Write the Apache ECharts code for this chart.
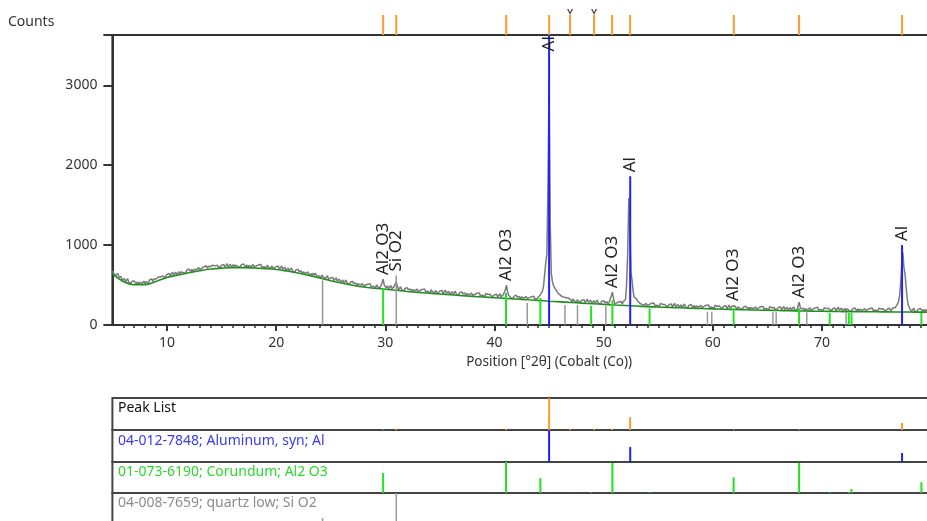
<!DOCTYPE html>
<html><head><meta charset="utf-8">
<script src="https://cdn.jsdelivr.net/npm/echarts@6/dist/echarts.min.js"></script>
<style>html,body{margin:0;padding:0;overflow:hidden;background:#fff;width:927px;height:521px}
#c{width:1000px;height:540px}</style></head>
<body><div id="c"></div>
<script>
// ---- scan (Co radiation), 5 .. 80 deg 2theta, step 0.1
const scanStart = 5, scanStep = 0.1;
const observedCounts = [
677,647,666,621,632,645,598,600,607,559,
565,581,544,566,579,538,549,520,548,548,
552,527,514,541,505,536,549,521,531,546,
516,543,542,522,563,544,578,547,575,564,
577,556,601,581,600,582,615,631,593,618,
632,615,646,614,637,663,628,643,662,627,
645,668,638,667,687,653,671,649,684,691,
702,680,669,699,665,699,714,689,701,719,
691,716,713,691,730,709,741,708,734,721,
732,707,748,725,740,718,747,759,718,739,
749,730,758,724,744,768,730,743,759,722,
738,758,725,751,768,731,746,721,753,757,
765,740,726,753,717,747,760,731,741,755,
725,747,741,717,753,729,758,722,745,730,
738,711,750,724,737,713,739,749,705,724,
732,710,736,699,717,738,698,708,722,682,
695,713,677,701,715,676,688,661,690,692,
697,669,653,677,638,666,676,645,652,664,
631,651,643,615,649,623,650,612,632,614,
620,591,627,599,610,583,608,616,569,586,
592,569,594,556,573,593,552,561,574,533,
545,562,527,550,564,525,537,509,538,540,
545,518,502,527,489,518,528,498,506,518,
486,508,501,476,511,487,515,479,501,485,
492,465,504,477,490,466,493,530,575,500,
485,464,490,454,473,494,455,466,480,470,
540,490,439,463,479,440,454,427,458,460,
467,441,427,452,415,445,457,428,436,450,
419,441,435,410,446,422,451,415,438,422,
430,403,442,416,429,405,432,442,398,417,
425,404,431,395,414,436,397,408,423,384,
398,417,383,408,424,386,400,374,405,408,
415,389,375,401,364,394,406,377,386,400,
369,391,385,361,397,373,402,366,390,374,
382,355,394,369,382,358,385,395,352,371,
379,358,385,349,368,391,352,363,378,380,
440,500,410,372,380,342,356,330,362,365,
372,346,332,358,321,352,364,335,344,358,
327,349,343,319,355,331,360,324,348,332,
340,362,371,402,428,497,648,785,900,1800,
3000,1300,650,548,492,468,447,432,401,393,
378,362,355,340,348,330,342,318,336,338,
314,287,326,300,313,290,317,327,283,302,
311,290,317,281,300,323,284,295,310,271,
286,305,271,296,312,275,289,263,294,297,
305,279,265,291,254,285,310,365,410,335,
261,283,278,253,290,266,295,265,293,290,
320,520,900,1590,1250,650,560,420,345,335,
330,300,290,272,281,258,275,249,268,270,
241,264,259,235,272,248,276,240,263,249,
257,230,270,245,258,235,256,267,228,248,
257,236,263,229,248,271,233,240,256,220,
235,254,221,246,263,226,240,214,245,249,
257,232,216,245,208,239,252,224,233,247,
217,239,234,210,247,224,252,216,240,225,
234,207,247,222,235,212,237,247,205,224,
235,214,241,206,225,249,211,221,237,250,
240,233,200,226,242,204,217,194,224,228,
237,212,197,224,189,219,232,204,214,228,
198,220,215,191,228,204,233,198,221,207,
216,189,229,204,217,194,220,231,189,208,
218,197,225,190,210,232,194,206,221,183,
198,218,185,210,227,190,204,180,235,285,
225,198,183,210,174,205,218,190,200,214,
185,207,202,178,215,192,221,186,210,195,
204,177,217,192,205,183,209,220,178,198,
207,186,214,179,199,222,184,195,211,173,
188,208,175,201,218,180,195,170,202,206,
214,189,176,202,167,197,210,182,192,207,
177,200,195,171,207,184,214,179,203,188,
197,171,211,186,199,176,204,215,172,192,
201,181,209,174,194,217,200,215,235,260,
295,360,520,760,910,720,640,480,330,250,
215,200,170,195,211,175,189,165,196,200,
208,215,170,196,161,191,204,176,186,201,
190];

// fitted background, 1 deg steps from 5 to 80
const backgroundCounts = [
640,545,505,505,545,595,625,655,680,700,712,718,718,714,706,695,675,650,620,588,
555,525,498,475,460,448,435,420,408,398,388,378,368,358,350,342,333,325,316,308,
298,290,282,274,266,258,250,244,237,230,225,220,215,210,206,202,198,194,190,187,
184,181,178,176,174,172,170,168,167,166,165,164,163,162,161,160];

// peak list
const peakPos = [29.8, 31.0, 41.07, 45.0, 46.92, 49.12, 50.77, 52.42, 61.92, 67.9, 77.33];
const peakRel = [2, 4, 4, 100, 3, 3, 4, 40, 2, 2, 22];
const flaggedPeaks = [46.92, 49.12];

// 04-012-7848 Aluminum
const alPos = [45.0, 52.43, 77.33];
const alMain = [3630, 1862, 1000];
const alRel = [100, 47, 28];

// 01-073-6190 Corundum
const corPos = [29.8, 41.05, 44.2, 48.85, 50.8, 54.2, 61.9, 67.9, 70.7, 72.45, 72.7, 79.1];
const corMain = [460, 400, 340, 240, 310, 210, 210, 210, 150, 150, 150, 150];
const corRel = [65, 100, 48, 2, 97, 2, 50, 97, 2, 3, 13, 35];

// 04-008-7659 quartz low
const qzPos = [24.25, 31.0, 43.0, 46.45, 47.6, 50.2, 59.5, 59.9, 65.5, 65.8, 68.6, 72.2];
const qzMain = [560, 620, 275, 250, 250, 240, 165, 165, 160, 160, 160, 160];
const qzRel = [22, 100, 6, 6, 3, 5, 3, 8, 2, 3, 3, 2];

// phase labels
const labelPos = [29.8, 31.0, 41.05, 45.0, 50.8, 52.43, 61.9, 67.9, 77.33];
const labelText = ['Al2 O3', 'Si O2', 'Al2 O3', 'Al', 'Al2 O3', 'Al', 'Al2 O3', 'Al2 O3', 'Al'];

const xTickLabels = [10, 20, 30, 40, 50, 60, 70];
const xMajorTicks = [10, 20, 30, 40, 50, 60, 70, 80];
const yTicks = [0, 1000, 2000, 3000];

// ---------------------------------------------------------------
const FONT = '"Noto Sans", "Open Sans", sans-serif';
const C_AL = '#1f1fff', C_COR = '#22e022', C_QZ = '#999999', C_PK = '#ff9a2e';
const obsData = observedCounts.map((v, i) => [+(scanStart + i * scanStep).toFixed(2), v]);
const bgData = backgroundCounts.map((v, i) => [scanStart + i, v]);
const pairs = (p, v) => p.map((x, i) => [x, v[i]]);

// label anchors from data: max of nearby observed counts and reference sticks
const allSticks = pairs(alPos, alMain).concat(pairs(corPos, corMain), pairs(qzPos, qzMain));
const labelData = labelPos.map(x => {
  let a = 0;
  obsData.forEach(d => { if (Math.abs(d[0] - x) <= 0.25) a = Math.max(a, d[1]); });
  allSticks.forEach(s => { if (Math.abs(s[0] - x) <= 0.06) a = Math.max(a, s[1]); });
  return [x, a];
});

function stick(color, width) {
  return function (params, api) {
    const x = api.value(0), v = api.value(1);
    const p0 = api.coord([x, 0]), p1 = api.coord([x, v]);
    return { type: 'line', shape: { x1: p0[0], y1: p0[1], x2: p1[0], y2: p1[1] },
      style: { stroke: color, lineWidth: width } };
  };
}

const X0 = 112.4, XW = 873.4;
const hiddenX = (g) => ({ type: 'value', gridIndex: g, min: 5, max: 85, show: false });
const hiddenY = (g, max) => ({ type: 'value', gridIndex: g, min: 0, max: max, show: false });
const G = (o) => Object.assign({ left: X0, width: XW, outerBoundsMode: 'none', containLabel: false }, o);

const option = {
  animation: false,
  grid: [
    G({ top: 35, height: 290, show: true, borderColor: '#333', borderWidth: 2 }),
    G({ top: 5, height: 30 }),
    G({ top: 398, height: 32, show: true, borderColor: '#444', borderWidth: 2 }),
    G({ top: 430, height: 32, show: true, borderColor: '#444', borderWidth: 2 }),
    G({ top: 462, height: 31, show: true, borderColor: '#444', borderWidth: 2 }),
    G({ top: 493, height: 32, show: true, borderColor: '#444', borderWidth: 2 })
  ],
  xAxis: [
    { type: 'value', gridIndex: 0, min: 5, max: 85, interval: 1, position: 'bottom',
      name: 'Position [°2θ] (Cobalt (Co))', nameLocation: 'middle', nameGap: 30,
      nameTextStyle: { fontFamily: FONT, fontSize: 13.5, color: '#333' },
      axisLine: { lineStyle: { color: '#333', width: 2 } },
      axisTick: { length: 3, lineStyle: { color: '#333', width: 1.5 } },
      splitLine: { show: false },
      axisLabel: { margin: 11, fontFamily: FONT, fontSize: 14, color: '#333', showMinLabel: false, showMaxLabel: false,
        formatter: v => (xTickLabels.indexOf(v) >= 0 ? String(v) : '') } },
    { type: 'value', gridIndex: 0, min: 5, max: 85, position: 'bottom',
      axisLine: { show: false }, splitLine: { show: false }, axisLabel: { show: false },
      axisTick: { show: true, length: 6, customValues: xMajorTicks, lineStyle: { color: '#333', width: 2 } } },
    hiddenX(1), hiddenX(2), hiddenX(3), hiddenX(4), hiddenX(5)
  ],
  yAxis: [
    { type: 'value', gridIndex: 0, min: 0, max: 3630, interval: 1000,
      axisLine: { show: true, lineStyle: { color: '#333', width: 2 } },
      axisTick: { show: true, length: 9, lineStyle: { color: '#333', width: 2 } },
      splitLine: { show: false },
      axisLabel: { margin: 15, fontFamily: FONT, fontSize: 14, color: '#333',
        formatter: v => (yTicks.indexOf(v) >= 0 ? String(v) : '') } },
    hiddenY(1, 1.5), hiddenY(2, 100), hiddenY(3, 100), hiddenY(4, 100), hiddenY(5, 100)
  ],
  graphic: [
    { type: 'text', x: 8, y: 22, style: { text: 'Counts', fill: '#333', font: '14px ' + FONT, verticalAlign: 'middle' } },
    { type: 'text', x: 118, y: 408, style: { text: 'Peak List', fill: '#111', font: '14px ' + FONT, verticalAlign: 'middle' } },
    { type: 'text', x: 118, y: 441, style: { text: '04-012-7848; Aluminum, syn; Al', fill: '#3a3af0', font: '14px ' + FONT, verticalAlign: 'middle' } },
    { type: 'text', x: 118, y: 472, style: { text: '01-073-6190; Corundum; Al2 O3', fill: '#2ed82e', font: '14px ' + FONT, verticalAlign: 'middle' } },
    { type: 'text', x: 118, y: 503, style: { text: '04-008-7659; quartz low; Si O2', fill: '#8c8c8c', font: '14px ' + FONT, verticalAlign: 'middle' } }
  ],
  series: [
    { type: 'line', xAxisIndex: 0, yAxisIndex: 0, data: obsData, showSymbol: false, silent: true,
      lineStyle: { color: '#7a7a7a', width: 1.5 }, z: 1 },
    { type: 'line', xAxisIndex: 0, yAxisIndex: 0, data: bgData, smooth: 0.4, showSymbol: false, silent: true,
      lineStyle: { color: '#1f8f1f', width: 1.6 }, z: 2 },
    { type: 'custom', xAxisIndex: 0, yAxisIndex: 0, data: pairs(qzPos, qzMain), renderItem: stick(C_QZ, 1.5), z: 3, silent: true },
    { type: 'custom', xAxisIndex: 0, yAxisIndex: 0, data: pairs(corPos, corMain), renderItem: stick(C_COR, 2), z: 3, silent: true },
    { type: 'custom', xAxisIndex: 0, yAxisIndex: 0, data: pairs(alPos, alMain), renderItem: stick(C_AL, 2), z: 4, silent: true },
    { type: 'custom', xAxisIndex: 0, yAxisIndex: 0, data: labelData, z: 5, silent: true,
      renderItem: function (params, api) {
        const p = api.coord([api.value(0), api.value(1)]);
        const text = labelText[params.dataIndex];
        const top = params.coordSys.y;
        const len = text.length * 8.2;
        const y = Math.max(p[1] - 4, top + len);
        return { type: 'text', x: p[0], y: y, rotation: Math.PI / 2,
          style: { text: text, fill: '#222', font: '17px ' + FONT, align: 'left', verticalAlign: 'middle' } };
      } },
    // top strip peak markers
    { type: 'custom', xAxisIndex: 2, yAxisIndex: 1, data: peakPos.map(x => [x, 1]), renderItem: stick(C_PK, 2), silent: true },
    { type: 'scatter', xAxisIndex: 2, yAxisIndex: 1, data: flaggedPeaks.map(x => [x, 1.15]), silent: true,
      symbol: 'path://M0,0 L5,9 L10,0 L7.5,0 L5,5 L2.5,0 Z', symbolSize: [6, 6], itemStyle: { color: '#222' } },
    // panel rows
    { type: 'custom', xAxisIndex: 3, yAxisIndex: 2, data: pairs(peakPos, peakRel), renderItem: stick(C_PK, 2), silent: true },
    { type: 'custom', xAxisIndex: 4, yAxisIndex: 3, data: pairs(alPos, alRel), renderItem: stick(C_AL, 2), silent: true },
    { type: 'custom', xAxisIndex: 5, yAxisIndex: 4, data: pairs(corPos, corRel), renderItem: stick(C_COR, 2), silent: true },
    { type: 'custom', xAxisIndex: 6, yAxisIndex: 5, data: pairs(qzPos, qzRel), renderItem: stick(C_QZ, 1.5), silent: true }
  ]
};
const chart = echarts.init(document.getElementById('c'), null, { renderer: 'canvas' });
chart.setOption(option);
</script>
</body></html>
